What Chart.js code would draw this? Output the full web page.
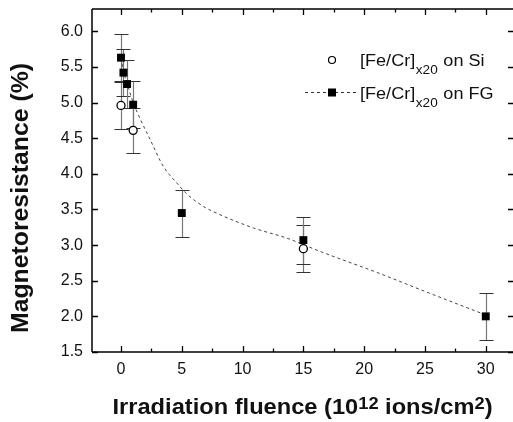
<!DOCTYPE html>
<html><head><meta charset="utf-8">
<style>html,body{margin:0;padding:0;background:#fff;overflow:hidden;} #wrap{width:513px;height:422px;position:relative;}</style>
<script src="https://cdn.jsdelivr.net/npm/chart.js@4.4.1/dist/chart.umd.min.js"></script>
</head><body><div id="wrap"><canvas id="c" width="513" height="422"></canvas></div>
<script>
// ---- data ----
const fluenceFG = [0, 0.2, 0.5, 1, 5, 15, 30];
const mrFG      = [5.63, 5.42, 5.26, 4.97, 3.45, 3.07, 2.00];
const errFG     = [0.33, 0.33, 0.34, 0.33, 0.33, 0.33, 0.33];
const fluenceSi = [0, 1, 15];
const mrSi      = [4.96, 4.61, 2.95];
const errSi     = [0.33, 0.32, 0.33];
const fitFluence = [0, 0.2, 0.5, 1, 1.5, 2.4, 3.5, 4.6, 5.4, 6.8, 8.1, 10.9, 13.6, 16.4, 21.3, 25, 30];
const fitMR      = [5.63, 5.44, 5.27, 5.0, 4.8, 4.48, 4.10, 3.87, 3.72, 3.54, 3.43, 3.24, 3.10, 2.91, 2.60, 2.35, 2.02];
const xTickValues = [0, 5, 10, 15, 20, 25, 30];
const yTickValues = [1.5, 2.0, 2.5, 3.0, 3.5, 4.0, 4.5, 5.0, 5.5, 6.0];
const legendMain = '[Fe/Cr]';
const legendSub = 'x20';
const legendTails = ['on Si', 'on FG'];
const xTitleParts = ['Irradiation fluence (10', '12', ' ions/cm', '2', ')'];
const yTitle = 'Magnetoresistance (%)';

const FONT = '"Liberation Sans", Arial, Helvetica, sans-serif';
const pts = (xs, ys) => xs.map((x, i) => ({x: x, y: ys[i]}));
const noPad = s => { s.paddingLeft = 0; s.paddingRight = 0; s.paddingTop = 0; s.paddingBottom = 0; };

const errorBars = {
  id: 'errorBars',
  beforeDatasetsDraw(chart) {
    const {ctx, scales: {x, y}} = chart;
    ctx.save();
    const draw = (xs, ys, es) => {
      xs.forEach((xv, i) => {
        const px = Math.round(x.getPixelForValue(xv)) + 0.5;
        const top = Math.round(y.getPixelForValue(ys[i] + es[i])) + 0.5;
        const bot = Math.round(y.getPixelForValue(ys[i] - es[i])) + 0.5;
        ctx.strokeStyle = '#777';
        ctx.lineWidth = 1.2;
        ctx.beginPath(); ctx.moveTo(px, top); ctx.lineTo(px, bot); ctx.stroke();
        ctx.strokeStyle = '#333';
        ctx.lineWidth = 1;
        ctx.beginPath();
        ctx.moveTo(px - 7, top); ctx.lineTo(px + 7, top);
        ctx.moveTo(px - 7, bot); ctx.lineTo(px + 7, bot);
        ctx.stroke();
      });
    };
    draw(fluenceSi, mrSi, errSi);
    draw(fluenceFG, mrFG, errFG);
    ctx.restore();
  }
};

const frame = {
  id: 'frame',
  afterDraw(chart) {
    const {ctx, chartArea: a, scales: {x, y}} = chart;
    ctx.save();
    ctx.strokeStyle = '#000';
    ctx.lineWidth = 1.5;
    ctx.beginPath();
    ctx.moveTo(a.left, a.top); ctx.lineTo(a.right + 2, a.top);
    ctx.moveTo(a.left, a.top); ctx.lineTo(a.left, a.bottom);
    ctx.moveTo(a.left, a.bottom); ctx.lineTo(a.right + 2, a.bottom);
    ctx.stroke();
    ctx.lineWidth = 1.3;
    ctx.beginPath();
    xTickValues.forEach(v => {
      const px = Math.round(x.getPixelForValue(v)) + 0.5;
      ctx.moveTo(px, a.bottom); ctx.lineTo(px, a.bottom - 6);
      ctx.moveTo(px, a.top); ctx.lineTo(px, a.top + 6);
      const pm = Math.round(x.getPixelForValue(v + (xTickValues[1] - xTickValues[0]) / 2)) + 0.5;
      if (pm < a.right - 2) {
        ctx.moveTo(pm, a.bottom); ctx.lineTo(pm, a.bottom - 3.5);
        ctx.moveTo(pm, a.top); ctx.lineTo(pm, a.top + 3.5);
      }
    });
    yTickValues.forEach(v => {
      const py = Math.round(y.getPixelForValue(v)) + 0.5;
      ctx.moveTo(a.left, py); ctx.lineTo(a.left + 6, py);
      ctx.moveTo(a.right, py); ctx.lineTo(a.right - 5, py);
    });
    ctx.stroke();

    // legend
    ctx.fillStyle = '#fff';
    ctx.strokeStyle = '#000';
    ctx.lineWidth = 1.2;
    ctx.beginPath(); ctx.arc(332, 60, 3.5, 0, Math.PI * 2); ctx.fill(); ctx.stroke();
    ctx.strokeStyle = '#333';
    ctx.lineWidth = 1;
    ctx.setLineDash([3, 3]);
    ctx.beginPath(); ctx.moveTo(305, 92.5); ctx.lineTo(358, 92.5); ctx.stroke();
    ctx.setLineDash([]);
    ctx.fillStyle = '#000';
    ctx.fillRect(328, 88.5, 8, 8);

    const stretch = 1.13;
    const drawLegendText = (x0, base, tail) => {
      ctx.save();
      ctx.translate(x0, base);
      ctx.scale(stretch, 1);
      ctx.fillStyle = '#111';
      ctx.textBaseline = 'alphabetic';
      ctx.textAlign = 'left';
      ctx.font = '16px ' + FONT;
      let w = ctx.measureText(legendMain).width;
      ctx.fillText(legendMain, 0, 0);
      ctx.font = '12px ' + FONT;
      ctx.fillText(legendSub, w + 0.5, 8);
      w += 0.5 + ctx.measureText(legendSub).width;
      ctx.font = '16px ' + FONT;
      ctx.fillText(tail, w + 5, 0);
      ctx.restore();
    };
    drawLegendText(360, 66, legendTails[0]);
    drawLegendText(360, 98.5, legendTails[1]);

    // x title with superscripts
    ctx.save();
    ctx.fillStyle = '#111';
    ctx.textBaseline = 'alphabetic';
    const bigF = 'bold 22px ' + FONT, supF = 'bold 17px ' + FONT;
    let tw = 0;
    xTitleParts.forEach((p, i) => { ctx.font = (i % 2 === 1) ? supF : bigF; tw += ctx.measureText(p).width; });
    const targetW = 380;
    const sx = targetW / tw;
    const cx = (a.left + a.right) / 2;
    ctx.translate(cx - targetW / 2, 414);
    ctx.scale(sx, 1);
    let xx = 0;
    xTitleParts.forEach((p, i) => {
      const sup = (i % 2 === 1);
      ctx.font = sup ? supF : bigF;
      ctx.fillText(p, xx, sup ? -5 : 0);
      xx += ctx.measureText(p).width;
    });
    ctx.restore();

    // y title
    ctx.save();
    ctx.fillStyle = '#111';
    ctx.font = 'bold 23px ' + FONT;
    const yw = ctx.measureText(yTitle).width;
    ctx.translate(28, 198);
    ctx.rotate(-Math.PI / 2);
    ctx.scale(270 / yw, 1);
    ctx.textAlign = 'center';
    ctx.textBaseline = 'alphabetic';
    ctx.fillText(yTitle, 0, 0);
    ctx.restore();

    ctx.restore();
  }
};

new Chart(document.getElementById('c'), {
  type: 'scatter',
  data: {
    datasets: [
      { label: '[Fe/Cr]x20 on Si', data: pts(fluenceSi, mrSi), pointStyle: 'circle', pointRadius: 4,
        pointBackgroundColor: '#fff', pointBorderColor: '#000', pointBorderWidth: 1.3, showLine: false, order: 0 },
      { label: '[Fe/Cr]x20 on FG', data: pts(fluenceFG, mrFG), pointStyle: 'rect', pointRadius: 5.6,
        pointBackgroundColor: '#000', pointBorderColor: '#000', pointBorderWidth: 0, showLine: false, order: 1 },
      { label: 'fit', type: 'line', data: pts(fitFluence, fitMR), borderColor: '#444', borderWidth: 1,
        borderDash: [3, 3], pointRadius: 0, cubicInterpolationMode: 'monotone', fill: false, order: 2 }
    ]
  },
  options: {
    responsive: false,
    animation: false,
    events: [],
    layout: { autoPadding: false, padding: { top: 9, right: 0, left: 0, bottom: 0 } },
    plugins: { legend: { display: false }, tooltip: { enabled: false } },
    scales: {
      x: {
        type: 'linear', min: -2.385, max: 32.24,
        afterBuildTicks: s => { s.ticks = xTickValues.map(v => ({ value: v })); },
        afterFit: s => { s.height = 70; noPad(s); },
        grid: { display: false, drawTicks: false },
        border: { display: false },
        ticks: { color: '#111', padding: 8, maxRotation: 0, autoSkip: false,
                 font: { family: FONT, size: 16 } }
      },
      y: {
        type: 'linear', min: 1.5, max: 6.313,
        afterBuildTicks: s => { s.ticks = yTickValues.map(v => ({ value: v })); },
        afterFit: s => { s.width = 92; noPad(s); },
        grid: { display: false, drawTicks: false },
        border: { display: false },
        ticks: { color: '#111', padding: 9, autoSkip: false,
                 callback: v => v.toFixed(1),
                 font: { family: FONT, size: 16 } }
      }
    }
  },
  plugins: [errorBars, frame]
});
</script>
</body></html>
